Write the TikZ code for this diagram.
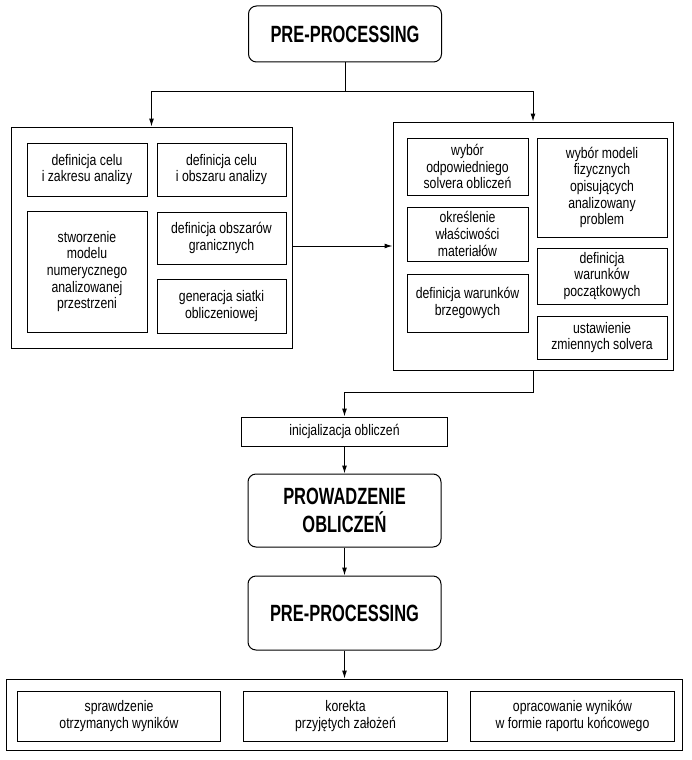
\documentclass[tikz,border=0pt]{standalone}
\usepackage{fontspec}
\setmainfont{Liberation Sans}[FakeStretch=0.80]
\newfontfamily\titlefont{Liberation Sans}[FakeStretch=0.70]
\usepackage{tikz}
\usetikzlibrary{positioning, arrows.meta}

\begin{document}
\begin{tikzpicture}[x=1pt, y=-1pt,
  title/.style={draw, rounded corners=8pt, line width=1pt, align=center, inner sep=0pt,
    font=\titlefont\bfseries\fontsize{23.5}{28}\selectfont, minimum width=193pt},
  frame/.style={draw, line width=1pt, inner sep=0pt},
  inbox/.style={draw, line width=1pt, align=center, inner sep=0pt,
    font=\fontsize{15.3}{16.7}\selectfont},
  arr/.style={-{Latex[length=8pt,width=5pt]}, line width=1pt}
]
\useasboundingbox (0,0) rectangle (691,760);

% top
\node[title, minimum height=56pt] (pre) at (345,34) {PRE-PROCESSING};
\coordinate[below=29pt of pre] (fork);

% left group
\node[frame, minimum width=281pt, minimum height=221pt] (lbox) at (151.5,237.5) {};
\node[inbox, minimum width=120pt, minimum height=53pt, below right=16pt and 16pt of lbox.north west] (cel) {definicja celu\\ i zakresu analizy};
\node[inbox, minimum width=129pt, minimum height=53pt, right=9pt of cel] (obszar) {definicja celu\\ i obszaru analizy};
\node[inbox, minimum width=120pt, minimum height=121pt, below=14pt of cel] (model) {stworzenie\\ modelu\\ numerycznego\\ analizowanej\\ przestrzeni};
\node[inbox, minimum width=129pt, minimum height=52pt, below=15pt of obszar] (granica) {definicja obszarów\\ granicznych};
\node[inbox, minimum width=129pt, minimum height=54pt, below=14pt of granica] (siatka) {generacja siatki\\ obliczeniowej};

% right group
\node[frame, minimum width=280pt, minimum height=248pt] (rbox) at (533,246) {};
\node[inbox, minimum width=121pt, minimum height=57pt, below right=16pt and 14pt of rbox.north west] (solver) {wybór\\ odpowiedniego\\ solvera obliczeń};
\node[inbox, minimum width=121pt, minimum height=54pt, below=11pt of solver] (mat) {określenie\\ właściwości\\ materiałów};
\node[inbox, minimum width=121pt, minimum height=58pt, below=12pt of mat] (brzeg) {definicja warunków\\ brzegowych};
\node[inbox, minimum width=130pt, minimum height=99pt, below right=16pt and 144pt of rbox.north west] (fiz) {wybór modeli\\ fizycznych\\ opisujących\\ analizowany\\ problem};
\node[inbox, minimum width=130pt, minimum height=56pt, below=10pt of fiz] (pocz) {definicja\\ warunków\\ początkowych};
\node[inbox, minimum width=130pt, minimum height=43pt, below=11pt of pocz] (zmienne) {ustawienie\\ zmiennych solvera};
\coordinate[below=22pt of rbox] (join);

% middle column
\node[inbox, minimum width=206pt, minimum height=29pt] (inic) at (344.5,431.5) {inicjalizacja obliczeń};
\node[title, minimum height=73pt, below=27pt of inic] (prow) {PROWADZENIE\\ OBLICZEŃ};
\node[title, minimum height=74pt, below=28pt of prow] (post) {PRE-PROCESSING};

% bottom group
\node[frame, minimum width=676pt, minimum height=71pt, below=28pt of post] (bbox) {};
\node[inbox, minimum width=203pt, minimum height=50pt, below right=12pt and 11pt of bbox.north west] (spr) {sprawdzenie\\ otrzymanych wyników};
\node[inbox, minimum width=204pt, minimum height=50pt, right=22pt of spr] (kor) {korekta\\ przyjętych założeń};
\node[inbox, minimum width=204pt, minimum height=50pt, right=22pt of kor] (rap) {opracowanie wyników\\ w formie raportu końcowego};

\draw[line width=1pt] (pre) -- (fork);
\draw[arr] (fork) -| (lbox);
\draw[arr] (fork) -| (rbox);
\draw[arr] (lbox.east |- rbox.west) -- (rbox.west);
\draw[line width=1pt] (rbox) -- (join);
\draw[arr] (join) -| (inic);
\draw[arr] (inic) -- (prow);
\draw[arr] (prow) -- (post);
\draw[arr] (post) -- (bbox);
\end{tikzpicture}
\end{document}
